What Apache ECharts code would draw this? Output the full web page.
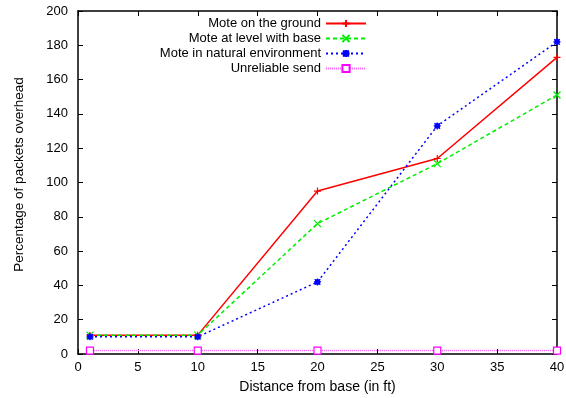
<!DOCTYPE html>
<html>
<head>
<meta charset="utf-8">
<script src="https://cdn.jsdelivr.net/npm/echarts@6/dist/echarts.min.js"></script>
<style>
  html, body { margin: 0; padding: 0; background: #fff; }
  #chart { width: 566px; height: 398px; }
</style>
</head>
<body>
<div id="chart"></div>
<script>
// distance from base (ft)
const distances = [1, 10, 20, 30, 40];
const onGround = [11, 11, 95, 114, 173];
const levelWithBase = [11, 11, 76, 111, 151];
const naturalEnv = [10, 10, 42, 133, 182];
const unreliable = [2, 2, 2, 2, 2];

const seriesNames = [
  "Mote on the ground",
  "Mote at level with base",
  "Mote in natural environment",
  "Unreliable send"
];

const FONT = "Liberation Sans, Arial, sans-serif";

const pair = (ys) => distances.map((x, i) => [x, ys[i]]);

const plusSym = "path://M0,5L10,5M5,0L5,10";
const crossSym = "path://M0,0L10,10M10,0L0,10";
const starSym = "path://M0,5L10,5M5,0L5,10M1,1L9,9M9,1L1,9M2,2L8,2L8,8L2,8Z";

const chart = echarts.init(document.getElementById("chart"));

// one legend per entry so the samples line up on the right like gnuplot's key
const legends = seriesNames.map((name, i) => ({
  data: [name],
  orient: "vertical",
  align: "right",
  right: 199,
  top: 17 + i * 15,
  padding: 0,
  itemWidth: 40,
  itemHeight: 9,
  selectedMode: false,
  textStyle: { fontFamily: FONT, fontSize: 13, color: "#000" }
}));

const frameAxis = {
  axisLine: { show: true, onZero: false, lineStyle: { color: "#000", width: 1.5 } },
  axisTick: { show: true, inside: true, length: 5, lineStyle: { color: "#000", width: 1 } },
  splitLine: { show: false }
};

chart.setOption({
  animation: false,
  backgroundColor: "#fff",
  legend: legends,
  grid: { left: 78, right: 9, top: 11, bottom: 44, containLabel: false, outerBoundsMode: "none" },
  xAxis: [
    {
      type: "value", min: 0, max: 40, interval: 5,
      name: "Distance from base (in ft)",
      nameLocation: "middle", nameGap: 26,
      nameTextStyle: { fontFamily: FONT, fontSize: 14, color: "#000" },
      axisLabel: { fontFamily: FONT, fontSize: 13, color: "#000", margin: 7 },
      ...frameAxis
    },
    {
      type: "value", min: 0, max: 40, interval: 5, position: "top",
      axisLabel: { show: false },
      ...frameAxis
    }
  ],
  yAxis: [
    {
      type: "value", min: 0, max: 200, interval: 20,
      name: "Percentage of packets overhead",
      nameLocation: "middle", nameGap: 52,
      nameTextStyle: { fontFamily: FONT, fontSize: 13.5, color: "#000", padding: [0, 0, 0, 16] },
      axisLabel: { fontFamily: FONT, fontSize: 13, color: "#000", margin: 10 },
      ...frameAxis
    },
    {
      type: "value", min: 0, max: 200, interval: 20, position: "right",
      axisLabel: { show: false },
      ...frameAxis
    }
  ],
  series: [
    {
      name: seriesNames[0], type: "line", data: pair(onGround),
      symbol: plusSym, symbolSize: 7,
      lineStyle: { color: "#ff0000", width: 1.5, type: "solid" },
      itemStyle: { color: "#ff0000", borderColor: "#ff0000", borderWidth: 1.2 }
    },
    {
      name: seriesNames[1], type: "line", data: pair(levelWithBase),
      symbol: crossSym, symbolSize: 7,
      lineStyle: { color: "#00ee00", width: 1.5, type: [4, 3] },
      itemStyle: { color: "#00ee00", borderColor: "#00ee00", borderWidth: 1.2 }
    },
    {
      name: seriesNames[2], type: "line", data: pair(naturalEnv),
      symbol: starSym, symbolSize: 7,
      lineStyle: { color: "#0000ff", width: 1.5, type: [2, 3] },
      itemStyle: { color: "#0000ff", borderColor: "#0000ff", borderWidth: 1.2 }
    },
    {
      name: seriesNames[3], type: "line", data: pair(unreliable),
      symbol: "rect", symbolSize: 7,
      lineStyle: { color: "#ff66ff", width: 1.5, type: [1, 1] },
      itemStyle: { color: "#ffffff", borderColor: "#ff00ff", borderWidth: 1.2 }
    }
  ]
});
</script>
</body>
</html>
